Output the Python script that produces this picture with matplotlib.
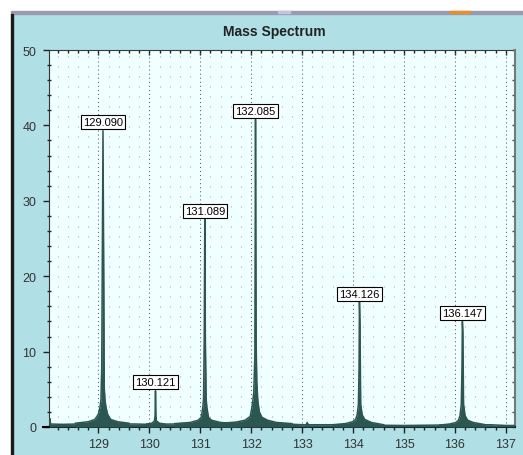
import numpy as np
import matplotlib
matplotlib.use('Agg')
import matplotlib.pyplot as plt
from matplotlib.patches import Rectangle

plt.rcParams['font.family'] = ['Liberation Sans', 'DejaVu Sans']
plt.rcParams['lines.scale_dashes'] = False

# spectrum profile (m/z, intensity)
mz_base = [128.03, 128.30, 128.60, 129.70, 130.00, 130.50, 130.70, 131.60, 131.70,
           132.70, 133.00, 133.30, 133.60, 135.00, 135.60, 136.70, 137.00, 137.18]
int_base = [0.4, 0.35, 0.4, 0.4, 0.35, 0.4, 0.4, 0.45, 0.5,
            0.4, 0.3, 0.3, 0.3, 0.2, 0.25, 0.3, 0.2, 0.2]

mz_p128 = [128.04, 128.05, 128.06]
int_p128 = [0.4, 1.1, 0.4]

mz_p129 = [128.55, 128.80, 128.93, 129.00, 129.03, 129.05, 129.065, 129.075, 129.09,
           129.105, 129.115, 129.13, 129.15, 129.18, 129.24, 129.38, 129.60]
int_p129 = [0.5, 0.7, 1.0, 1.7, 2.6, 3.6, 7.8, 20.0, 39.3,
            20.0, 5.2, 3.5, 2.6, 1.7, 1.0, 0.7, 0.5]

mz_p130 = [129.95, 130.05, 130.10, 130.113, 130.121, 130.129, 130.14, 130.20, 130.30]
int_p130 = [0.4, 0.5, 0.8, 1.5, 4.8, 1.5, 0.8, 0.5, 0.4]

mz_p131 = [130.50, 130.80, 130.96, 131.02, 131.05, 131.065, 131.078, 131.089,
           131.10, 131.115, 131.13, 131.16, 131.22, 131.40, 131.70]
int_p131 = [0.45, 0.6, 0.9, 1.3, 2.6, 3.8, 12.0, 27.6,
            12.0, 3.8, 2.6, 1.3, 0.9, 0.6, 0.45]

mz_p132 = [131.40, 131.70, 131.88, 131.98, 132.02, 132.05, 132.072, 132.085,
           132.098, 132.11, 132.13, 132.16, 132.21, 132.32, 132.50, 132.80]
int_p132 = [0.5, 0.65, 0.9, 1.4, 2.8, 4.5, 9.5, 40.8,
            11.0, 6.0, 3.5, 2.0, 1.3, 0.9, 0.6, 0.45]

mz_p133 = [133.08, 133.10, 133.12]
int_p133 = [0.3, 0.6, 0.3]

mz_p134 = [133.60, 133.85, 133.99, 134.05, 134.08, 134.105, 134.117, 134.126,
           134.137, 134.15, 134.18, 134.23, 134.36, 134.60]
int_p134 = [0.3, 0.45, 0.7, 1.0, 1.6, 3.0, 7.5, 16.6,
            13.4, 3.0, 1.6, 1.0, 0.6, 0.3]

mz_p136 = [135.70, 135.90, 136.02, 136.07, 136.10, 136.125, 136.138, 136.147,
           136.157, 136.17, 136.20, 136.25, 136.36, 136.60]
int_p136 = [0.25, 0.4, 0.6, 0.9, 1.5, 3.0, 7.5, 14.0,
            12.5, 3.0, 1.5, 0.9, 0.6, 0.3]

# labelled peaks
peak_mz = [129.090, 130.121, 131.089, 132.085, 134.126, 136.147]
peak_int = [39.3, 4.8, 27.6, 40.8, 16.6, 14.0]

x_ticks = [129, 130, 131, 132, 133, 134, 135, 136, 137]
y_ticks = [0, 10, 20, 30, 40, 50]

W, H = 523, 456
fig = plt.figure(figsize=(W / 100, H / 100), dpi=100, facecolor='#b0e0e6')

# window chrome around the chart
fig.patches.append(Rectangle((0, 1 - 12 / H), 1, 12 / H, transform=fig.transFigure,
                             color='white', zorder=0))
fig.patches.append(Rectangle((0, 0), 11 / W, 1, transform=fig.transFigure,
                             color='white', zorder=0))
fig.patches.append(Rectangle((11 / W, 1 - 15 / H), 1, 3 / H, transform=fig.transFigure,
                             color='#9a9ab2', zorder=1))
fig.patches.append(Rectangle((278 / W, 1 - 14 / H), 12 / W, 2 / H, transform=fig.transFigure,
                             color='#c4c4e0', zorder=2))
fig.patches.append(Rectangle((450 / W, 1 - 14 / H), 20 / W, 2 / H, transform=fig.transFigure,
                             color='#e8902c', zorder=2))
fig.patches.append(Rectangle((11 / W, 0), 2 / W, 1 - 15 / H, transform=fig.transFigure,
                             color='#1a1a1a', zorder=1))

ax = fig.add_axes([49 / W, (H - 428) / H, (515 - 49) / W, (428 - 51) / H])
ax.set_facecolor('#f0ffff')

dark = '#2c5651'
for xs, ys in [(mz_base, int_base), (mz_p128, int_p128), (mz_p129, int_p129),
               (mz_p130, int_p130), (mz_p131, int_p131), (mz_p132, int_p132),
               (mz_p133, int_p133), (mz_p134, int_p134), (mz_p136, int_p136)]:
    ax.fill_between(xs, ys, 0, color=dark, linewidth=0, zorder=3)
    ax.plot(xs, ys, color=dark, linewidth=1.1, zorder=3)

for m, v in zip(peak_mz, peak_int):
    ax.annotate(f'{m:.3f}', (m, v), xytext=(0, 2.4), textcoords='offset points',
                ha='center', va='bottom', fontsize=8, zorder=5,
                bbox=dict(boxstyle='square,pad=0.18', fc='white', ec='black', lw=0.8))

ax.set_xlim(128.03, 137.18)
ax.set_ylim(0, 50)
ax.set_xticks(x_ticks)
ax.set_xticks(np.arange(128.2, 137.19, 0.2), minor=True)
ax.set_yticks(y_ticks)
ax.set_yticks(np.arange(0, 51, 2), minor=True)

ax.grid(True, axis='x', which='major', color='#555555', linestyle=(0, (0.72, 2.2)),
        linewidth=0.75, zorder=1)
ax.grid(True, axis='x', which='minor', color='#b0b0b0', linestyle=(0, (0.8, 6.4)),
        linewidth=0.8, zorder=1)
ax.set_axisbelow(True)

ax.tick_params(axis='x', which='major', direction='out', length=4, width=1,
               pad=4, labelsize=9, labelcolor='#333333', colors='#222222')
ax.tick_params(axis='x', which='minor', direction='out', length=2.2, width=1, colors='#222222')
ax.tick_params(axis='y', which='major', direction='out', length=4, width=1,
               pad=5, labelsize=9, labelcolor='#333333', colors='#222222')
ax.tick_params(axis='y', which='minor', direction='inout', length=3.5, width=1, colors='#222222')

top = ax.secondary_xaxis('top')
top.set_xticks(x_ticks)
top.set_xticks(np.arange(128.2, 137.19, 0.2), minor=True)
top.tick_params(which='major', direction='in', length=3.6, width=1, labeltop=False, colors='#222222')
top.tick_params(which='minor', direction='in', length=2.2, width=1, colors='#222222')
top.spines['top'].set_color('#3a3a3a')

right = ax.secondary_yaxis('right')
right.set_yticks(y_ticks)
right.set_yticks(np.arange(0, 51, 2), minor=True)
right.tick_params(which='both', direction='in', length=2.2, width=1, labelright=False, colors='#444444')
right.spines['right'].set_color('#777777')
right.spines['right'].set_linewidth(1.5)

ax.spines['left'].set_color('#333333')
ax.spines['bottom'].set_color('black')
ax.spines['bottom'].set_linewidth(1.5)
ax.spines['top'].set_visible(False)
ax.spines['right'].set_visible(False)
ax.plot([-0.012, 0], [0, 0], transform=ax.transAxes, color='black', lw=1.5,
        clip_on=False, zorder=6)

fig.text(274 / W, 1 - 32 / H, 'Mass Spectrum', ha='center', va='center',
         fontsize=10, fontweight='bold', color='#222222')

fig.savefig('out.png', dpi=100, facecolor=fig.get_facecolor())
